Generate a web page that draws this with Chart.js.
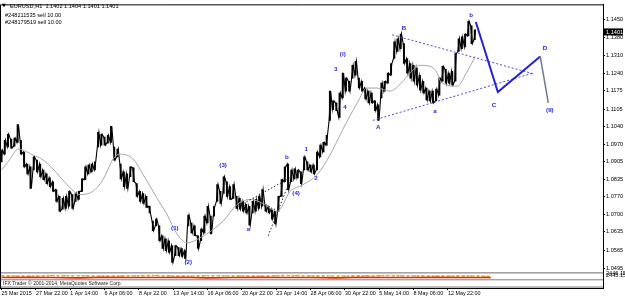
<!DOCTYPE html>
<html>
<head>
<meta charset="utf-8">
<script src="https://cdn.jsdelivr.net/npm/chart.js@4.4.1/dist/chart.umd.min.js"></script>
<style>
  html, body { margin: 0; padding: 0; background: #fff; }
  #wrap { width: 625px; height: 298px; }
</style>
</head>
<body>
<div id="wrap"><canvas id="chart" width="625" height="298"></canvas></div>
<script>
// EURUSD H1, one bucket = 6 hourly bars, bar 0 = 25 Mar 06:00
const bucketStep = 6;
const barHigh = [
  1.0948, 1.0986, 1.1009, 1.0990, 1.0994, 1.1046, 1.0986, 1.0941, 1.0895, 1.0884,
  1.0922, 1.0910, 1.0895, 1.0872, 1.0857, 1.0842, 1.0827, 1.0797, 1.0771, 1.0763,
  1.0771, 1.0790, 1.0778, 1.0782, 1.0790, 1.0838, 1.0884, 1.0891, 1.0895, 1.0903,
  1.1016, 1.1009, 1.0998, 1.1005, 1.1039, 1.0960, 1.0952, 1.0895, 1.0865, 1.0857,
  1.0884, 1.0880, 1.0820, 1.0790, 1.0782, 1.0771, 1.0733, 1.0676, 1.0684, 1.0658,
  1.0620, 1.0608, 1.0601, 1.0582, 1.0582, 1.0575, 1.0571, 1.0563, 1.0699, 1.0669,
  1.0658, 1.0620, 1.0646, 1.0695, 1.0733, 1.0695, 1.0733, 1.0816, 1.0790, 1.0846,
  1.0827, 1.0808, 1.0816, 1.0771, 1.0763, 1.0752, 1.0740, 1.0733, 1.0752, 1.0759,
  1.0771, 1.0797, 1.0740, 1.0733, 1.0722, 1.0714, 1.0771, 1.0835, 1.0884, 1.0895,
  1.0872, 1.0876, 1.0872, 1.0865, 1.0922, 1.0903, 1.0891, 1.0891, 1.0941, 1.0967,
  1.0978, 1.1005, 1.1174, 1.1137, 1.1129, 1.1167, 1.1243, 1.1224, 1.1212, 1.1273,
  1.1288, 1.1224, 1.1212, 1.1186, 1.1174, 1.1167, 1.1137, 1.1122, 1.1205, 1.1212,
  1.1243, 1.1280, 1.1363, 1.1375, 1.1393, 1.1356, 1.1299, 1.1280, 1.1273, 1.1262,
  1.1235, 1.1212, 1.1186, 1.1174, 1.1174, 1.1182, 1.1224, 1.1269, 1.1258, 1.1243,
  1.1250, 1.1318, 1.1375, 1.1382, 1.1393, 1.1442, 1.1424, 1.1409
];
const barLow = [
  1.0903, 1.0933, 1.0960, 1.0956, 1.0963, 1.0978, 1.0933, 1.0884, 1.0857, 1.0801,
  1.0872, 1.0865, 1.0846, 1.0835, 1.0820, 1.0808, 1.0790, 1.0752, 1.0714, 1.0722,
  1.0725, 1.0733, 1.0725, 1.0752, 1.0759, 1.0790, 1.0835, 1.0857, 1.0865, 1.0872,
  1.0960, 1.0967, 1.0967, 1.0975, 1.0978, 1.0910, 1.0922, 1.0838, 1.0808, 1.0801,
  1.0846, 1.0827, 1.0771, 1.0752, 1.0744, 1.0729, 1.0707, 1.0639, 1.0658, 1.0601,
  1.0571, 1.0563, 1.0556, 1.0518, 1.0544, 1.0544, 1.0541, 1.0533, 1.0658, 1.0631,
  1.0620, 1.0571, 1.0601, 1.0631, 1.0669, 1.0627, 1.0695, 1.0752, 1.0744, 1.0782,
  1.0771, 1.0759, 1.0763, 1.0725, 1.0722, 1.0714, 1.0707, 1.0661, 1.0707, 1.0714,
  1.0725, 1.0733, 1.0714, 1.0707, 1.0684, 1.0665, 1.0714, 1.0771, 1.0827, 1.0797,
  1.0827, 1.0838, 1.0842, 1.0820, 1.0872, 1.0872, 1.0865, 1.0857, 1.0872, 1.0922,
  1.0941, 1.0967, 1.1062, 1.1103, 1.1099, 1.1073, 1.1148, 1.1174, 1.1174, 1.1224,
  1.1235, 1.1186, 1.1174, 1.1144, 1.1129, 1.1129, 1.1099, 1.1062, 1.1148, 1.1174,
  1.1205, 1.1235, 1.1299, 1.1326, 1.1337, 1.1280, 1.1243, 1.1224, 1.1212, 1.1197,
  1.1178, 1.1167, 1.1140, 1.1137, 1.1129, 1.1137, 1.1159, 1.1212, 1.1205, 1.1205,
  1.1197, 1.1212, 1.1326, 1.1337, 1.1344, 1.1386, 1.1356, 1.1371
];

// moving average (gray)
const maIdx = [0, 16, 31, 59, 75, 96, 122, 146, 170, 189, 208, 221, 245, 264, 290, 308, 327, 346, 370, 413,
  439, 463, 487, 514, 538, 562, 588, 612, 636, 663, 681, 700, 724, 743, 756, 780, 799, 812, 817, 830,
  849, 868, 883];
const maVals = [1.0872, 1.0914, 1.0952, 1.0929, 1.0914, 1.0876, 1.0816, 1.0778, 1.0790, 1.0835,
  1.0914, 1.0933, 1.0914, 1.0854, 1.0763, 1.0703, 1.0627, 1.0593, 1.0612, 1.0676,
  1.0740, 1.0759, 1.0744, 1.0714, 1.0790, 1.0816, 1.0854, 1.0929, 1.1027, 1.1129,
  1.1186, 1.1186, 1.1174, 1.1201, 1.1231, 1.1273, 1.1269, 1.1243, 1.1216, 1.1197,
  1.1193, 1.1250, 1.1307];

// trend lines and projected path
const upperIdx = [728, 994];
const upperVals = [1.1390, 1.1239];
const lowerIdx = [692, 990];
const lowerVals = [1.1062, 1.1243];
const shallowIdx = [445, 538];
const shallowVals = [1.0737, 1.0842];
const steepIdx = [497, 538];
const steepVals = [1.0620, 1.0835];
const projIdx = [884, 925, 1004, 1019];
const projVals = [1.1439, 1.1171, 1.1307, 1.1129];

// wave labels
const waveText = ['(1)', '(2)', '(3)', 'a', '(4)', 'b', '1', '2', '3', '4', '(I)', 'A', 'B', 'a', 'b', 'C', 'D', '(II)'];
const waveIdx = [323, 348, 413, 460, 549, 532, 568, 586, 623, 640, 636, 702, 750, 808, 875, 918, 1013, 1022];
const wavePrice = [1.0649, 1.0517, 1.0891, 1.0643, 1.0782, 1.0922, 1.0952, 1.0842, 1.1258, 1.1114,
  1.1314, 1.1035, 1.1416, 1.1095, 1.1465, 1.1118, 1.1337, 1.1099];

// small indicator strip under the price window
const indIdx = [0, 48, 96, 144, 192, 240, 288, 336, 384, 432, 480, 528, 576, 624, 672, 720, 768, 816, 864, 912];
const indRed = [0.2, 0.3, 0.2, 0.1, 0.3, 0.2, 0.2, 0.3, 0.1, 0.2, 0.3, 0.2, 0.2, 0.1, 0.3, 0.2, 0.2, 0.3, 0.2, 0.2];
const indYellow = [0.8, 0.7, 0.9, 0.8, 0.7, 0.8, 0.9, 0.7, 0.8, 0.8, 0.7, 0.9, 0.8, 0.7, 0.8, 0.9, 0.8, 0.7, 0.8, 0.6];

const xTickIdx = [0, 64, 128, 192, 256, 320, 384, 448, 512, 576, 640, 704, 768, 832];
const xTickLabels = ['25 Mar 2015', '27 Mar 22:00', '1 Apr 14:00', '6 Apr 06:00', '8 Apr 22:00', '13 Apr 14:00',
  '16 Apr 06:00', '20 Apr 22:00', '23 Apr 14:00', '28 Apr 06:00', '30 Apr 22:00', '5 May 14:00',
  '8 May 06:00', '12 May 22:00'];
const yTicks = [1.1450, 1.1380, 1.1310, 1.1240, 1.1175, 1.1105, 1.1040, 1.0970, 1.0905, 1.0835,
  1.0770, 1.0700, 1.0635, 1.0565, 1.0495];
const lastPrice = 1.1401;

const pts = (xs, ys) => xs.map((x, i) => ({ x: x, y: ys[i] }));
const font = 'Liberation Sans, Arial, sans-serif';

// zigzag through each bucket's high and low, like dense hourly bars
const zigzag = [];
barHigh.forEach((h, i) => {
  const x = i * bucketStep;
  const up = i === 0 || h + barLow[i] >= barHigh[i - 1] + barLow[i - 1];
  zigzag.push({ x: x - 1.5, y: up ? barLow[i] : h });
  zigzag.push({ x: x + 1.5, y: up ? h : barLow[i] });
});

const overlay = {
  id: 'overlay',
  beforeDatasetsDraw(chart) {
    const ctx = chart.ctx, a = chart.chartArea;
    ctx.save();
    ctx.fillStyle = '#a4a4a4';
    ctx.fillRect(a.left, 272, a.right - a.left, 1.6);
    ctx.fillRect(a.left, 279, a.right - a.left, 1.4);
    ctx.fillRect(a.left, 286.3, a.right - a.left, 1.5);
    ctx.restore();
  },
  afterDraw(chart) {
    const ctx = chart.ctx, a = chart.chartArea;
    const xs = chart.scales.x, ys = chart.scales.y;
    ctx.save();
    // frame
    ctx.strokeStyle = '#000';
    ctx.lineWidth = 1;
    ctx.beginPath();
    ctx.moveTo(a.left + 0.5, a.bottom);
    ctx.lineTo(a.left + 0.5, a.top + 0.5);
    ctx.lineTo(a.right, a.top + 0.5);
    ctx.stroke();

    // header
    ctx.fillStyle = '#000';
    ctx.textBaseline = 'middle';
    ctx.textAlign = 'left';
    ctx.font = '5px DejaVu Sans';
    ctx.fillText('\u25BC', 2, 6);
    ctx.font = '5.6px ' + font;
    ctx.fillText('EURUSD,H1  1.1402 1.1404 1.1401 1.1401', 10, 6);
    ctx.fillText('#248211535 sell 10.00', 5, 15.5);
    ctx.fillText('#248179519 sell 10.00', 5, 22.5);

    // wave labels
    ctx.fillStyle = '#1e1ee0';
    ctx.font = 'bold 6.2px ' + font;
    ctx.textAlign = 'center';
    waveText.forEach((t, i) => {
      ctx.fillText(t, xs.getPixelForValue(waveIdx[i]), ys.getPixelForValue(wavePrice[i]));
    });

    // footer text in lower window
    ctx.fillStyle = '#222';
    ctx.textAlign = 'left';
    ctx.font = '5px ' + font;
    ctx.fillText('IFX Trader \u00A9 2001-2014, MetaQuotes Software Corp.', 3, 283.5);

    // last price box
    const py = ys.getPixelForValue(lastPrice);
    ctx.fillStyle = '#000';
    ctx.fillRect(a.right + 1, py - 3.5, 19, 7);
    ctx.fillStyle = '#fff';
    ctx.font = '5.6px ' + font;
    ctx.fillText(lastPrice.toFixed(4), a.right + 3, py + 0.3);

    // indicator window scale labels
    ctx.fillStyle = '#000';
    ctx.fillText('2446.15', a.right + 3, 273.5);
    ctx.fillText('2445.15', a.right + 3, 275);
    ctx.restore();
  }
};

new Chart(document.getElementById('chart'), {
  type: 'bar',
  data: {
    datasets: [
      {
        type: 'bar',
        data: barHigh.map((h, i) => ({ x: i * bucketStep, y: [barLow[i], h] })),
        backgroundColor: '#000',
        borderWidth: 0,
        barThickness: 1.3,
        order: 6
      },
      {
        type: 'line',
        data: zigzag,
        borderColor: '#000',
        borderWidth: 1.1,
        pointRadius: 0,
        order: 5
      },
      {
        type: 'line',
        data: pts(maIdx, maVals),
        borderColor: '#a3a6ad',
        borderWidth: 1,
        pointRadius: 0,
        cubicInterpolationMode: 'monotone',
        order: 4
      },
      {
        type: 'line',
        data: pts(upperIdx, upperVals),
        borderColor: '#4848e0',
        borderWidth: 1,
        borderDash: [2, 2],
        pointRadius: 0,
        order: 3
      },
      {
        type: 'line',
        data: pts(lowerIdx, lowerVals),
        borderColor: '#4848e0',
        borderWidth: 1,
        borderDash: [2, 2],
        pointRadius: 0,
        order: 3
      },
      {
        type: 'line',
        data: pts(shallowIdx, shallowVals),
        borderColor: '#222',
        borderWidth: 1,
        borderDash: [1.5, 2],
        pointRadius: 0,
        order: 3
      },
      {
        type: 'line',
        data: pts(steepIdx, steepVals),
        borderColor: '#222',
        borderWidth: 1,
        borderDash: [1.5, 2],
        pointRadius: 0,
        order: 3
      },
      {
        type: 'line',
        data: pts(projIdx, projVals),
        borderColor: '#2323d2',
        borderWidth: 2,
        pointRadius: 0,
        segment: {
          borderColor: ctx => ctx.p0DataIndex === 2 ? '#717891' : undefined,
          borderWidth: ctx => ctx.p0DataIndex === 2 ? 1.5 : undefined
        },
        order: 2
      },
      {
        type: 'line',
        yAxisID: 'yi',
        data: pts(indIdx, indRed),
        borderColor: '#e02818',
        borderWidth: 1.6,
        pointRadius: 0,
        order: 1
      },
      {
        type: 'line',
        yAxisID: 'yi',
        data: pts(indIdx, indYellow),
        borderColor: '#f0b400',
        borderWidth: 1.6,
        borderDash: [3, 2],
        pointRadius: 0,
        order: 1
      },
      {
        type: 'line',
        yAxisID: 'yi',
        data: pts(indIdx, indYellow),
        borderColor: '#333',
        borderWidth: 1,
        borderDash: [1, 6],
        pointRadius: 0,
        order: 1
      }
    ]
  },
  options: {
    responsive: false,
    devicePixelRatio: 1,
    animation: false,
    events: [],
    layout: { padding: 0 },
    plugins: { legend: { display: false }, tooltip: { enabled: false } },
    scales: {
      x: {
        type: 'linear',
        min: -2.9,
        max: 1121,
        offset: false,
        afterBuildTicks: scale => { scale.ticks = xTickIdx.map(v => ({ value: v })); },
        afterFit: scale => { scale.height = 10; },
        grid: { drawOnChartArea: false, offset: false, tickLength: 2, color: '#000' },
        border: { color: '#000', width: 1 },
        ticks: {
          autoSkip: false,
          maxRotation: 0,
          align: 'start',
          padding: 0.5,
          color: '#000',
          font: { family: font, size: 5.4 },
          callback: (v, i) => xTickLabels[i]
        }
      },
      y: {
        position: 'right',
        min: 1.04198,
        max: 1.15066,
        afterBuildTicks: scale => { scale.ticks = yTicks.map(v => ({ value: v })); },
        afterFit: scale => { scale.width = 22; },
        grid: { drawOnChartArea: false, tickLength: 2, color: '#000' },
        border: { color: '#000', width: 1 },
        ticks: {
          padding: 1,
          color: '#000',
          font: { family: font, size: 5.6 },
          callback: v => v.toFixed(4)
        }
      },
      yi: {
        display: false,
        min: -3.33,
        max: 92.67
      }
    }
  },
  plugins: [overlay]
});
</script>
</body>
</html>
